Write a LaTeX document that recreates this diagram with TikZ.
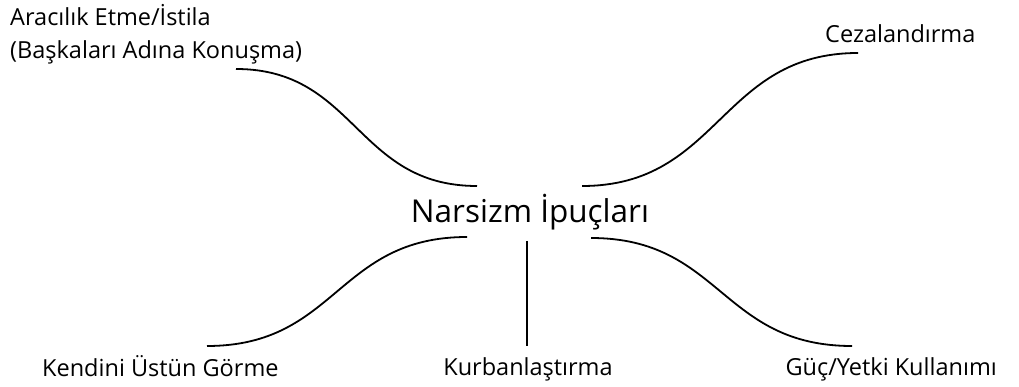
\documentclass[tikz,border=0pt]{standalone}
\usepackage{fontspec}
\setmainfont{Open Sans}
\begin{document}
\begin{tikzpicture}[x=1pt,y=-1pt,
  lbl/.style={font=\fontsize{23.5}{33}\selectfont, inner sep=0pt, anchor=base west},
  conn/.style={line width=1.8pt, black}]
\useasboundingbox (0,0) rectangle (1019,387);
\node[font=\fontsize{31.5}{38}\selectfont, inner sep=0pt, anchor=base] (c) at (530,223) {Narsizm İpuçları};
\node[lbl, align=left] (tl) at (10,59) {Aracılık Etme/İstila\\(Başkaları Adına Konuşma)};
\node[lbl] (tr) at (825,43) {Cezalandırma};
\node[lbl] (bl) at (42,376) {Kendini Üstün Görme};
\node[lbl, anchor=base] (bm) at (528,375) {Kurbanlaştırma};
\node[lbl, anchor=base east] (br) at (997,375) {Güç/Yetki Kullanımı};
\coordinate (a1) at (236,69); \coordinate (a2) at (477,186);
\coordinate (b1) at (582,186); \coordinate (b2) at (858,53);
\coordinate (d1) at (467,237); \coordinate (d2) at (207,346);
\coordinate (e1) at (527,241); \coordinate (e2) at (527,346);
\coordinate (f1) at (591,238); \coordinate (f2) at (852,346);
\draw[conn] (a1) .. controls (356,69) and (356,186) .. (a2);
\draw[conn] (b1) .. controls (720,186) and (720,53) .. (b2);
\draw[conn] (d1) .. controls (337,237) and (337,346) .. (d2);
\draw[conn] (e1) -- (e2);
\draw[conn] (f1) .. controls (721,238) and (721,346) .. (f2);
\end{tikzpicture}
\end{document}
